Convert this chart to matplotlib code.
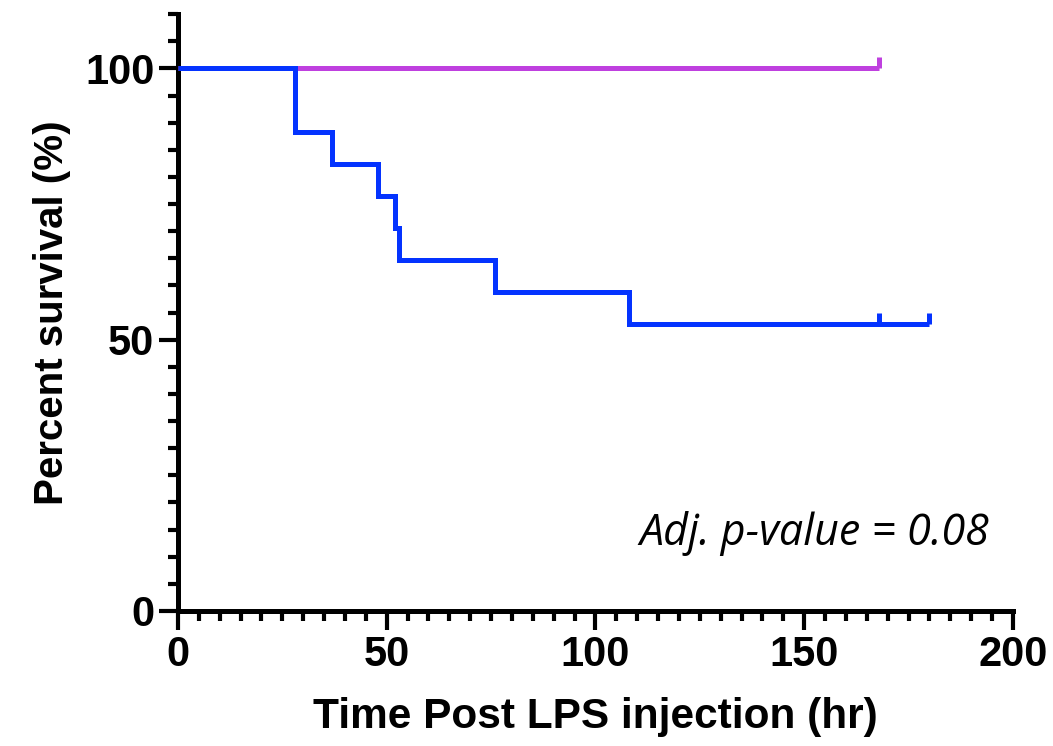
import matplotlib.pyplot as plt
from matplotlib.ticker import MultipleLocator

# Kaplan-Meier curves (percent survival vs hours after LPS)
blue_times = [0, 28, 37, 48, 52, 53, 76, 108, 180]
blue_surv = [100, 88.2, 82.4, 76.5, 70.6, 64.7, 58.8, 52.9, 52.9]
blue_censor_times = [168, 180]
blue_censor_surv = [52.9, 52.9]

purple_times = [0, 168]
purple_surv = [100, 100]
purple_censor_times = [168]
purple_censor_surv = [100]

x_ticks = [0, 50, 100, 150, 200]
y_ticks = [0, 50, 100]

BLUE = '#0433FF'
PURPLE = '#BF40DF'

plt.rcParams['font.family'] = ['Liberation Sans', 'DejaVu Sans']
plt.rcParams['font.weight'] = 'bold'

fig = plt.figure(figsize=(10.53, 7.46), dpi=100)
ax = fig.add_axes([0.169, 0.181, 0.793, 0.800])

ax.step(purple_times, purple_surv, where='post', color=PURPLE, lw=3.6,
        solid_capstyle='butt', zorder=3)
ax.plot(purple_censor_times, purple_censor_surv, ls='none', marker=2,
        ms=8, mew=3.6, color=PURPLE, zorder=3)
ax.step(blue_times, blue_surv, where='post', color=BLUE, lw=3.6,
        solid_capstyle='butt', solid_joinstyle='miter', zorder=4)
ax.plot(blue_censor_times, blue_censor_surv, ls='none', marker=2,
        ms=8, mew=3.6, color=BLUE, zorder=4)

ax.set_xlim(0, 200)
ax.set_ylim(0, 110)
ax.spines['top'].set_visible(False)
ax.spines['right'].set_visible(False)
for side in ('left', 'bottom'):
    ax.spines[side].set_linewidth(3.6)

ax.set_xticks(x_ticks)
ax.set_yticks(y_ticks)
ax.xaxis.set_minor_locator(MultipleLocator(5))
ax.yaxis.set_minor_locator(MultipleLocator(5))
ax.tick_params(which='major', length=14, width=3, labelsize=30, pad=3)
ax.tick_params(which='minor', length=7, width=3)
for lbl in ax.get_xticklabels() + ax.get_yticklabels():
    lbl.set_fontweight('bold')

ax.set_xlabel('Time Post LPS injection (hr)', fontsize=30.5, fontweight='bold', labelpad=16)
ax.set_ylabel('Percent survival (%)', fontsize=29, fontweight='bold', labelpad=10)

ax.text(0.972, 0.13, 'Adj. p-value = 0.08', transform=ax.transAxes,
        ha='right', va='center', fontsize=31, fontstyle='italic',
        fontweight='normal', family=['Open Sans', 'DejaVu Sans'])

fig.savefig('out.png', dpi=100)
